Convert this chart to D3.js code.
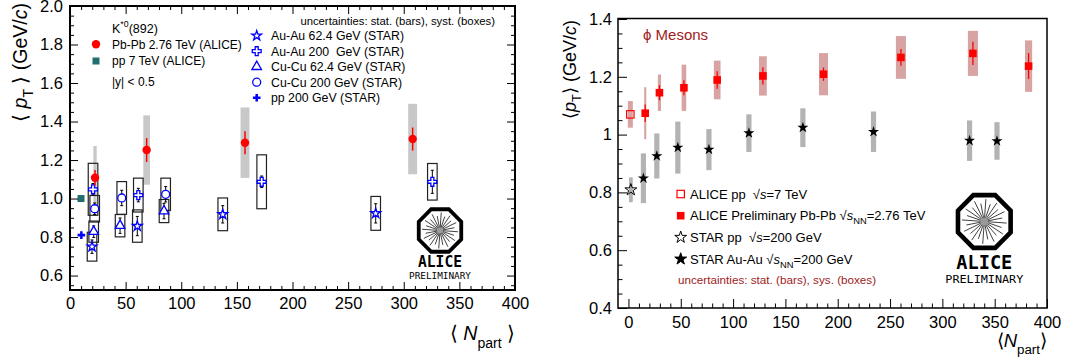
<!DOCTYPE html>
<html>
<head>
<meta charset="utf-8">
<script src="https://cdn.jsdelivr.net/npm/d3@7"></script>
<style>
  body { margin: 0; background: #fff; }
  svg { display: block; }
  text { font-family: "Liberation Sans", Arial, Helvetica, sans-serif; }
</style>
</head>
<body>
<div id="container"></div>
<script>
// ---------------------------------------------------------------------------
// Data — left panel: K*0(892) <pT> vs <Npart>
// ---------------------------------------------------------------------------
const kstarPbPbNpart   = [22.5, 68.9, 157.3, 308];
const kstarPbPbMean    = [1.108, 1.252, 1.290, 1.309];
const kstarPbPbStat    = [0.04, 0.062, 0.06, 0.06];
const kstarPbPbSyst    = [0.165, 0.18, 0.183, 0.183];
const kstarPbPbNpartErr = [1.5, 3.0, 4.0, 4.0];

const kstarPP7Npart = [9.9];
const kstarPP7Mean  = [1.0];

const auau62Npart = [19.8, 60.5, 137.3, 274.8];
const auau62Mean  = [0.750, 0.857, 0.918, 0.923];
const auau62Stat  = [0.035, 0.05, 0.045, 0.05];
const auau62Syst  = [0.075, 0.084, 0.085, 0.088];

const auau200Npart = [20.7, 61.4, 172.3, 325.7];
const auau200Mean  = [1.048, 1.018, 1.087, 1.087];
const auau200Stat  = [0.03, 0.035, 0.03, 0.06];
const auau200Syst  = [0.135, 0.088, 0.14, 0.095];

const cucu62Npart = [21.3, 45.0, 84.5];
const cucu62Mean  = [0.828, 0.859, 0.935];
const cucu62Stat  = [0.03, 0.04, 0.04];
const cucu62Syst  = [0.055, 0.058, 0.06];

const cucu200Npart = [22.2, 46.5, 86.0];
const cucu200Mean  = [0.947, 1.003, 1.022];
const cucu200Stat  = [0.03, 0.04, 0.04];
const cucu200Syst  = [0.069, 0.085, 0.084];

const pp200Npart = [10.2];
const pp200Mean  = [0.81];

// ---------------------------------------------------------------------------
// Data — right panel: phi mesons <pT> vs <Npart>
// ---------------------------------------------------------------------------
const phiPPNpart = [1.8];
const phiPPMean  = [1.07];
const phiPPSyst  = [0.046];

const phiPbPbNpart = [16, 29.6, 53, 84.8, 128.5, 186.4, 260.4, 329.2, 382.4];
const phiPbPbMean  = [1.074, 1.145, 1.162, 1.189, 1.203, 1.209, 1.267, 1.281, 1.237];
const phiPbPbStat  = [0.03, 0.026, 0.026, 0.03, 0.03, 0.023, 0.029, 0.04, 0.045];
const phiPbPbSyst  = [0.09, 0.063, 0.08, 0.067, 0.068, 0.073, 0.074, 0.078, 0.089];
const phiPbPbNpartErr = [1.0, 1.5, 2.2, 3.2, 3.7, 4.3, 4.8, 4.8, 3.4];

const starPhiPPNpart = [2.3];
const starPhiPPMean  = [0.809];
const starPhiPPSyst  = [0.043];

const starPhiAuAuNpart = [14.3, 27.1, 47.2, 76.9, 115.1, 166.7, 234.2, 326, 352.2];
const starPhiAuAuMean  = [0.849, 0.926, 0.955, 0.948, 1.005, 1.024, 1.010, 0.979, 0.978];
const starPhiAuAuSyst  = [0.086, 0.078, 0.09, 0.071, 0.065, 0.067, 0.07, 0.07, 0.065];

// Tick values
const xTicks       = [0, 50, 100, 150, 200, 250, 300, 350, 400];
const yTicksLeft   = [0.6, 0.8, 1.0, 1.2, 1.4, 1.6, 1.8, 2.0];
const yTicksRight  = [0.4, 0.6, 0.8, 1.0, 1.2, 1.4];

// ---------------------------------------------------------------------------
// Helpers
// ---------------------------------------------------------------------------
const svg = d3.select('#container').append('svg')
  .attr('width', 1068).attr('height', 362);

// Rich text: parts = [{t, i (italic), sub, sup, fs}]
function richText(g, x, y, parts, size, opts = {}) {
  const t = g.append('text')
    .attr('x', x).attr('y', y)
    .attr('font-size', size)
    .attr('fill', opts.fill || '#000')
    .attr('text-anchor', opts.anchor || 'start');
  if (opts.transform) t.attr('transform', opts.transform);
  let cur = 0;
  parts.forEach(p => {
    let target = 0;
    if (p.sub) target = size * (p.sub === true ? 0.35 : p.sub);
    if (p.sup) target = -size * 0.45;
    const ts = t.append('tspan').text(p.t).attr('dy', target - cur);
    cur = target;
    if (p.i) ts.style('font-style', 'italic');
    if (p.sub || p.sup) ts.attr('font-size', size * (p.fs || 0.7));
  });
  return t;
}

function styleAxis(g, fs) {
  g.select('.domain').remove();
  g.selectAll('.tick line').attr('stroke', '#000').attr('stroke-width', 1);
  g.selectAll('.tick text').attr('font-size', fs).attr('fill', '#000')
    .attr('font-family', '"Liberation Sans", Arial, sans-serif');
}

function minorOf(lo, hi, step, majors) {
  const out = [];
  const n = Math.round((hi - lo) / step);
  for (let i = 0; i <= n; i++) {
    const v = +(lo + i * step).toFixed(4);
    if (!majors.some(m => Math.abs(m - v) < 1e-6)) out.push(v);
  }
  return out;
}

function aliceLogo(g, cx, cy, R, sw, textY, textW, textFs, preY, preW, preFs) {
  const pts = d3.range(8).map(k => {
    const a = Math.PI / 8 + k * Math.PI / 4;
    return [cx + R * Math.cos(a), cy + R * Math.sin(a)];
  });
  g.append('path').attr('d', 'M' + pts.join('L') + 'Z')
    .attr('fill', '#fff').attr('stroke', '#000').attr('stroke-width', sw)
    .attr('stroke-linejoin', 'miter');
  const inner = R - sw * 0.9;
  d3.range(24).forEach(k => {
    const a = k * Math.PI / 12 + 0.07;
    const r = inner * (k % 2 === 0 ? 0.92 : 0.75);
    g.append('line')
      .attr('x1', cx).attr('y1', cy)
      .attr('x2', cx + r * Math.cos(a)).attr('y2', cy + r * Math.sin(a))
      .attr('stroke', '#111').attr('stroke-width', 0.8);
  });
  g.append('circle').attr('cx', cx).attr('cy', cy).attr('r', R * 0.14).attr('fill', '#999');
  g.append('text').attr('x', cx).attr('y', textY)
    .attr('text-anchor', 'middle').attr('font-size', textFs).attr('font-weight', 'bold')
    .style('font-family', '"DejaVu Sans Mono", monospace')
    .attr('textLength', textW).attr('lengthAdjust', 'spacingAndGlyphs')
    .text('ALICE');
  g.append('text').attr('x', cx).attr('y', preY)
    .attr('text-anchor', 'middle').attr('font-size', preFs)
    .style('font-family', '"DejaVu Sans Mono", monospace')
    .attr('textLength', preW).attr('lengthAdjust', 'spacingAndGlyphs')
    .text('PRELIMINARY');
}

const sym = (type, size) => d3.symbol().type(type).size(size)();

// ---------------------------------------------------------------------------
// LEFT PANEL
// ---------------------------------------------------------------------------
const L = svg.append('g');
const xL = d3.scaleLinear().domain([0, 400]).range([70, 515]);
const yL = d3.scaleLinear().domain([0.525, 2.0]).range([290, 6]);

// ALICE Pb-Pb systematic bands (grey)
kstarPbPbNpart.forEach((n, i) => {
  L.append('rect')
    .attr('x', xL(n - kstarPbPbNpartErr[i])).attr('width', xL(n + kstarPbPbNpartErr[i]) - xL(n - kstarPbPbNpartErr[i]))
    .attr('y', yL(kstarPbPbMean[i] + kstarPbPbSyst[i]))
    .attr('height', yL(kstarPbPbMean[i] - kstarPbPbSyst[i]) - yL(kstarPbPbMean[i] + kstarPbPbSyst[i]))
    .attr('fill', '#c8c8c8');
});

// STAR series
const starSeries = [
  { n: auau62Npart, m: auau62Mean, st: auau62Stat, sy: auau62Syst, type: d3.symbolStar, size: 30 },
  { n: auau200Npart, m: auau200Mean, st: auau200Stat, sy: auau200Syst, type: d3.symbolCross, size: 44 },
  { n: cucu62Npart, m: cucu62Mean, st: cucu62Stat, sy: cucu62Syst, type: d3.symbolTriangle, size: 40 },
  { n: cucu200Npart, m: cucu200Mean, st: cucu200Stat, sy: cucu200Syst, type: d3.symbolCircle, size: 50 },
];
const boxHalf = 4.3; // Npart units
starSeries.forEach(s => {
  s.n.forEach((n, i) => {
    L.append('rect')
      .attr('x', xL(n - boxHalf)).attr('width', xL(n + boxHalf) - xL(n - boxHalf))
      .attr('y', yL(s.m[i] + s.sy[i]))
      .attr('height', yL(s.m[i] - s.sy[i]) - yL(s.m[i] + s.sy[i]))
      .attr('fill', 'none').attr('stroke', '#222').attr('stroke-width', 1.2);
  });
});
starSeries.forEach(s => {
  s.n.forEach((n, i) => {
    const x = xL(n);
    const y1 = yL(s.m[i] + s.st[i]), y2 = yL(s.m[i] - s.st[i]);
    L.append('line').attr('x1', x).attr('x2', x).attr('y1', y1).attr('y2', y2)
      .attr('stroke', '#000').attr('stroke-width', 1);
    [y1, y2].forEach(yy => L.append('line').attr('x1', x - 1.5).attr('x2', x + 1.5)
      .attr('y1', yy).attr('y2', yy).attr('stroke', '#000').attr('stroke-width', 1));
    L.append('path').attr('d', sym(s.type, s.size))
      .attr('transform', `translate(${x},${yL(s.m[i])})`)
      .attr('fill', '#fff').attr('stroke', '#0000ff').attr('stroke-width', 1.3);
  });
});

// STAR pp 200
pp200Npart.forEach((n, i) => {
  L.append('path').attr('d', sym(d3.symbolCross, 32))
    .attr('transform', `translate(${xL(n)},${yL(pp200Mean[i])})`)
    .attr('fill', '#0000ff');
});

// ALICE pp 7 TeV
kstarPP7Npart.forEach((n, i) => {
  L.append('rect').attr('x', xL(n) - 3.5).attr('y', yL(kstarPP7Mean[i]) - 3.5)
    .attr('width', 7).attr('height', 7).attr('fill', '#216e6e');
});

// ALICE Pb-Pb markers
kstarPbPbNpart.forEach((n, i) => {
  L.append('line').attr('x1', xL(n)).attr('x2', xL(n))
    .attr('y1', yL(kstarPbPbMean[i] + kstarPbPbStat[i])).attr('y2', yL(kstarPbPbMean[i] - kstarPbPbStat[i]))
    .attr('stroke', '#ff0000').attr('stroke-width', 1.5);
  L.append('circle').attr('cx', xL(n)).attr('cy', yL(kstarPbPbMean[i])).attr('r', 4.2)
    .attr('fill', '#ff0000');
});

// Axes (ticks inside, mirrored)
const xMinor = minorOf(0, 400, 10, xTicks);
const yMinorL = minorOf(0.55, 2.0, 0.05, yTicksLeft);
L.append('g').attr('transform', 'translate(70,0)')
  .call(d3.axisLeft(yL).tickValues(yTicksLeft).tickSize(-8).tickPadding(7).tickFormat(d3.format('.1f')))
  .call(g => styleAxis(g, 16.5));
L.append('g').attr('transform', 'translate(70,0)')
  .call(d3.axisLeft(yL).tickValues(yMinorL).tickSize(-4).tickFormat(''))
  .call(g => styleAxis(g, 16));
L.append('g').attr('transform', 'translate(515,0)')
  .call(d3.axisRight(yL).tickValues(yTicksLeft).tickSize(-8).tickFormat(''))
  .call(g => styleAxis(g, 16));
L.append('g').attr('transform', 'translate(515,0)')
  .call(d3.axisRight(yL).tickValues(yMinorL).tickSize(-4).tickFormat(''))
  .call(g => styleAxis(g, 16));
L.append('g').attr('transform', 'translate(0,290)')
  .call(d3.axisBottom(xL).tickValues(xTicks).tickSize(-8).tickPadding(7))
  .call(g => styleAxis(g, 16.5));
L.append('g').attr('transform', 'translate(0,290)')
  .call(d3.axisBottom(xL).tickValues(xMinor).tickSize(-4).tickFormat(''))
  .call(g => styleAxis(g, 16));
L.append('g').attr('transform', 'translate(0,6)')
  .call(d3.axisTop(xL).tickValues(xTicks).tickSize(-8).tickFormat(''))
  .call(g => styleAxis(g, 16));
L.append('g').attr('transform', 'translate(0,6)')
  .call(d3.axisTop(xL).tickValues(xMinor).tickSize(-4).tickFormat(''))
  .call(g => styleAxis(g, 16));
L.append('rect').attr('x', 70).attr('y', 6).attr('width', 445).attr('height', 284)
  .attr('fill', 'none').attr('stroke', '#000').attr('stroke-width', 2);

// Axis titles
richText(L, 0, 0, [
  { t: '\u27E8 ' }, { t: 'p', i: true }, { t: 'T', sub: 0.3, fs: 0.72 }, { t: ' \u27E9 (GeV/' }, { t: 'c', i: true }, { t: ')' }
], 19.5, { anchor: 'end', transform: 'translate(27,3) rotate(-90)' });
richText(L, 515, 340, [
  { t: '\u27E8 ' }, { t: 'N', i: true }, { t: 'part', sub: 0.4, fs: 0.72 }, { t: ' \u27E9' }
], 19.5, { anchor: 'end' });

// Legend (left block)
richText(L, 112, 33, [{ t: 'K' }, { t: '*0', sup: true }, { t: '(892)' }], 12.5);
L.append('circle').attr('cx', 96).attr('cy', 44.3).attr('r', 4.2).attr('fill', '#ff0000');
L.append('text').attr('x', 112).attr('y', 48.5).attr('font-size', 12).text('Pb-Pb 2.76 TeV (ALICE)');
L.append('rect').attr('x', 92.5).attr('y', 57.5).attr('width', 7).attr('height', 7).attr('fill', '#216e6e');
L.append('text').attr('x', 112).attr('y', 65).attr('font-size', 12).text('pp 7 TeV (ALICE)');
L.append('text').attr('x', 112).attr('y', 85.5).attr('font-size', 12).text('|y| < 0.5');

// Legend (right block)
L.append('text').attr('x', 495).attr('y', 24.5).attr('font-size', 11.3).attr('text-anchor', 'end')
  .text('uncertainties: stat. (bars), syst. (boxes)');
const legStar = [
  { label: 'Au-Au 62.4 GeV (STAR)', type: d3.symbolStar, size: 30, fill: '#fff' },
  { label: 'Au-Au 200  GeV (STAR)', type: d3.symbolCross, size: 44, fill: '#fff' },
  { label: 'Cu-Cu 62.4 GeV (STAR)', type: d3.symbolTriangle, size: 40, fill: '#fff' },
  { label: 'Cu-Cu 200 GeV (STAR)', type: d3.symbolCircle, size: 50, fill: '#fff' },
  { label: 'pp 200 GeV (STAR)', type: d3.symbolCross, size: 32, fill: '#0000ff' },
];
legStar.forEach((d, i) => {
  const cy = 35.7 + i * 15.5;
  L.append('path').attr('d', sym(d.type, d.size)).attr('transform', `translate(256.7,${cy})`)
    .attr('fill', d.fill).attr('stroke', d.fill === '#fff' ? '#0000ff' : 'none').attr('stroke-width', 1.3);
  L.append('text').attr('x', 271).attr('y', cy + 4.5).attr('font-size', 12.3)
    .style('white-space', 'pre').text(d.label);
});

aliceLogo(L, 440, 230.5, 23, 3.8, 266.5, 44, 15.5, 279, 62, 8.5);

// ---------------------------------------------------------------------------
// RIGHT PANEL
// ---------------------------------------------------------------------------
const R = svg.append('g');
const xR = d3.scaleLinear().domain([-10, 400]).range([618, 1047]);
const yR = d3.scaleLinear().domain([0.4, 1.4]).range([308, 19]);

const pink = '#d8a3a3';
const grey = '#b3b3b3';

// STAR syst bands
starPhiAuAuNpart.forEach((n, i) => {
  R.append('rect').attr('x', xR(n) - 2.6).attr('width', 5.2)
    .attr('y', yR(starPhiAuAuMean[i] + starPhiAuAuSyst[i]))
    .attr('height', yR(starPhiAuAuMean[i] - starPhiAuAuSyst[i]) - yR(starPhiAuAuMean[i] + starPhiAuAuSyst[i]))
    .attr('fill', grey);
});
starPhiPPNpart.forEach((n, i) => {
  R.append('rect').attr('x', xR(n) - 1.9).attr('width', 3.8)
    .attr('y', yR(starPhiPPMean[i] + starPhiPPSyst[i]))
    .attr('height', yR(starPhiPPMean[i] - starPhiPPSyst[i]) - yR(starPhiPPMean[i] + starPhiPPSyst[i]))
    .attr('fill', grey);
});
// ALICE syst bands
phiPPNpart.forEach((n, i) => {
  R.append('rect').attr('x', xR(n) - 2.5).attr('width', 5)
    .attr('y', yR(phiPPMean[i] + phiPPSyst[i]))
    .attr('height', yR(phiPPMean[i] - phiPPSyst[i]) - yR(phiPPMean[i] + phiPPSyst[i]))
    .attr('fill', pink);
});
phiPbPbNpart.forEach((n, i) => {
  const x0 = xR(n - phiPbPbNpartErr[i]), x1 = xR(n + phiPbPbNpartErr[i]);
  R.append('rect').attr('x', x0).attr('width', x1 - x0)
    .attr('y', yR(phiPbPbMean[i] + phiPbPbSyst[i]))
    .attr('height', yR(phiPbPbMean[i] - phiPbPbSyst[i]) - yR(phiPbPbMean[i] + phiPbPbSyst[i]))
    .attr('fill', pink);
});

// ALICE markers
phiPbPbNpart.forEach((n, i) => {
  R.append('line').attr('x1', xR(n)).attr('x2', xR(n))
    .attr('y1', yR(phiPbPbMean[i] + phiPbPbStat[i])).attr('y2', yR(phiPbPbMean[i] - phiPbPbStat[i]))
    .attr('stroke', '#ff0000').attr('stroke-width', 1.3);
  R.append('rect').attr('x', xR(n) - 3.8).attr('y', yR(phiPbPbMean[i]) - 3.8)
    .attr('width', 7.6).attr('height', 7.6).attr('fill', '#ff0000');
});
phiPPNpart.forEach((n, i) => {
  R.append('rect').attr('x', xR(n) - 3.7).attr('y', yR(phiPPMean[i]) - 3.7)
    .attr('width', 7.4).attr('height', 7.4).attr('fill', 'none')
    .attr('stroke', '#ff0000').attr('stroke-width', 1.2);
});

// STAR markers
starPhiAuAuNpart.forEach((n, i) => {
  R.append('path').attr('d', sym(d3.symbolStar, 38))
    .attr('transform', `translate(${xR(n)},${yR(starPhiAuAuMean[i])})`)
    .attr('fill', '#000');
});
starPhiPPNpart.forEach((n, i) => {
  R.append('path').attr('d', sym(d3.symbolStar, 44))
    .attr('transform', `translate(${xR(n)},${yR(starPhiPPMean[i])})`)
    .attr('fill', 'none').attr('stroke', '#000').attr('stroke-width', 1);
});

// Axes
const yMinorR = minorOf(0.4, 1.4, 0.05, yTicksRight);
R.append('g').attr('transform', 'translate(618,0)')
  .call(d3.axisLeft(yR).tickValues(yTicksRight).tickSize(-9).tickPadding(6).tickFormat(d3.format('~g')))
  .call(g => styleAxis(g, 16.5));
R.append('g').attr('transform', 'translate(618,0)')
  .call(d3.axisLeft(yR).tickValues(yMinorR).tickSize(-4.5).tickFormat(''))
  .call(g => styleAxis(g, 16));
R.append('g').attr('transform', 'translate(0,308)')
  .call(d3.axisBottom(xR).tickValues(xTicks).tickSize(-9).tickPadding(8))
  .call(g => styleAxis(g, 16.5));
R.append('g').attr('transform', 'translate(0,308)')
  .call(d3.axisBottom(xR).tickValues(xMinor).tickSize(-4.5).tickFormat(''))
  .call(g => styleAxis(g, 16));
R.append('rect').attr('x', 618).attr('y', 18.5).attr('width', 429).attr('height', 289.5)
  .attr('fill', 'none').attr('stroke', '#000').attr('stroke-width', 1.5);

// Axis titles
richText(R, 0, 0, [
  { t: '\u27E8' }, { t: 'p', i: true }, { t: 'T', sub: 0.3, fs: 0.72 }, { t: '\u27E9 (GeV/' }, { t: 'c', i: true }, { t: ')' }
], 18, { anchor: 'end', transform: 'translate(576,20) rotate(-90)' });
richText(R, 1047, 347, [
  { t: '\u27E8' }, { t: 'N', i: true }, { t: 'part', sub: 0.4, fs: 0.72 }, { t: '\u27E9' }
], 18.5, { anchor: 'end' });

// Label
R.append('text').attr('x', 643).attr('y', 39.5).attr('font-size', 15).attr('fill', '#a01c1c')
  .text('\u03D5 Mesons');

// Legend
const legPhi = [
  { parts: [{ t: 'ALICE pp  \u221A' }, { t: 's', i: true }, { t: '=7 TeV' }], mark: 'openSq' },
  { parts: [{ t: 'ALICE Preliminary Pb-Pb \u221A' }, { t: 's', i: true }, { t: 'NN', sub: 0.3, fs: 0.72 }, { t: '=2.76 TeV' }], mark: 'fullSq' },
  { parts: [{ t: 'STAR pp  \u221A' }, { t: 's', i: true }, { t: '=200 GeV' }], mark: 'openStar' },
  { parts: [{ t: 'STAR Au-Au \u221A' }, { t: 's', i: true }, { t: 'NN', sub: 0.3, fs: 0.72 }, { t: '=200 GeV' }], mark: 'fullStar' },
];
legPhi.forEach((d, i) => {
  const cy = [194, 215.7, 237.3, 259][i];
  if (d.mark === 'openSq') {
    R.append('rect').attr('x', 680.7 - 3.7).attr('y', cy - 3.7).attr('width', 7.4).attr('height', 7.4)
      .attr('fill', 'none').attr('stroke', '#ff0000').attr('stroke-width', 1.2);
  } else if (d.mark === 'fullSq') {
    R.append('rect').attr('x', 680.7 - 3.8).attr('y', cy - 3.8).attr('width', 7.6).attr('height', 7.6)
      .attr('fill', '#ff0000');
  } else {
    R.append('path').attr('d', sym(d3.symbolStar, 44)).attr('transform', `translate(680.7,${cy})`)
      .attr('fill', d.mark === 'fullStar' ? '#000' : 'none').attr('stroke', '#000').attr('stroke-width', 1);
  }
  richText(R, 690, cy + 4.6, d.parts, 13).style('white-space', 'pre');
});
R.append('text').attr('x', 678).attr('y', 284).attr('font-size', 11.7).attr('fill', '#a01c1c')
  .text('uncertainties: stat. (bars), sys. (boxes)');

aliceLogo(R, 984.3, 221.5, 28.5, 4.6, 268.5, 56, 19.5, 282.5, 78, 10);
</script>
</body>
</html>
